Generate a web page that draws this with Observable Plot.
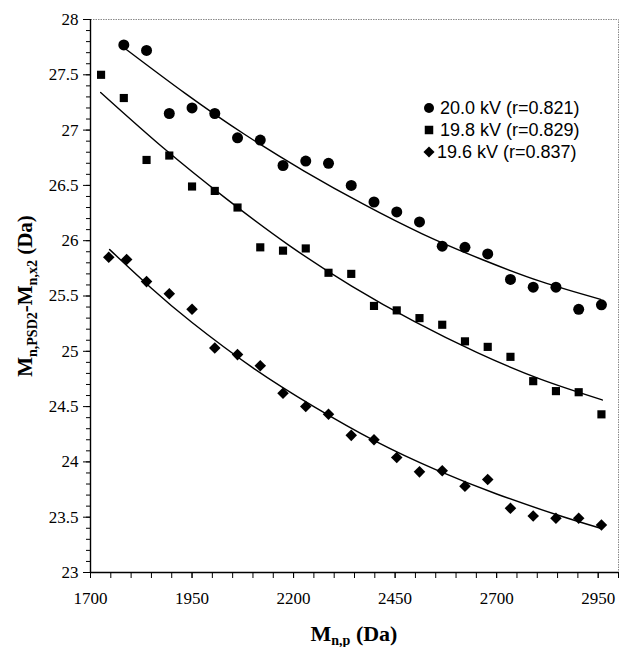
<!DOCTYPE html>
<html>
<head>
<meta charset="utf-8">
<script src="https://cdn.jsdelivr.net/npm/d3@7"></script>
<script src="https://cdn.jsdelivr.net/npm/@observablehq/plot@0.6"></script>
<style>
  body { margin: 0; background: #fff; }
  #chart { position: relative; width: 619px; height: 647px; }
</style>
</head>
<body>
<div id="chart"></div>
<script>
// ---- Data ----
const seriesNames = ["20.0 kV (r=0.821)", "19.8 kV (r=0.829)", "19.6 kV (r=0.837)"];

const xCircle = [1782, 1838, 1894, 1950, 2006, 2062, 2118, 2174, 2230, 2286, 2342, 2398, 2454, 2510, 2566, 2622, 2678, 2734, 2790, 2846, 2902, 2958];
const yCircle = [27.77, 27.72, 27.15, 27.20, 27.15, 26.93, 26.91, 26.68, 26.72, 26.70, 26.50, 26.35, 26.26, 26.17, 25.95, 25.94, 25.88, 25.65, 25.58, 25.58, 25.38, 25.42];

const xSquare = [1726, 1782, 1838, 1894, 1950, 2006, 2062, 2118, 2174, 2230, 2286, 2342, 2398, 2454, 2510, 2566, 2622, 2678, 2734, 2790, 2846, 2902, 2958];
const ySquare = [27.50, 27.29, 26.73, 26.77, 26.49, 26.45, 26.30, 25.94, 25.91, 25.93, 25.71, 25.70, 25.41, 25.37, 25.30, 25.24, 25.09, 25.04, 24.95, 24.73, 24.64, 24.63, 24.43];

const xDiamond = [1745, 1789, 1838, 1894, 1950, 2006, 2062, 2118, 2174, 2230, 2286, 2342, 2398, 2454, 2510, 2566, 2622, 2678, 2734, 2790, 2846, 2902, 2958];
const yDiamond = [25.85, 25.83, 25.63, 25.52, 25.38, 25.03, 24.97, 24.87, 24.62, 24.50, 24.43, 24.24, 24.20, 24.04, 23.91, 23.92, 23.78, 23.84, 23.58, 23.51, 23.49, 23.49, 23.43];

// fitted trend lines
const xCircleFit = [1788, 1934, 2080, 2226, 2372, 2518, 2664, 2810, 2956];
const yCircleFit = [27.73, 27.33, 26.96, 26.63, 26.33, 26.06, 25.83, 25.63, 25.47];
const xSquareFit = [1725, 1879, 2034, 2188, 2343, 2497, 2651, 2806, 2960];
const ySquareFit = [27.34, 26.84, 26.38, 25.96, 25.59, 25.27, 24.99, 24.75, 24.56];
const xDiamondFit = [1747, 1850, 1950, 2100, 2250, 2400, 2550, 2700, 2850, 2956];
const yDiamondFit = [25.92, 25.57, 25.26, 24.85, 24.50, 24.19, 23.93, 23.71, 23.52, 23.40];

// ticks
const xTicks = [1700, 1950, 2200, 2450, 2700, 2950];
const xMinorTicks = [1700,1750,1800,1850,1900,1950,2000,2050,2100,2150,2200,2250,2300,2350,2400,2450,2500,2550,2600,2650,2700,2750,2800,2850,2900,2950,3000];
const yTicks = [23, 23.5, 24, 24.5, 25, 25.5, 26, 26.5, 27, 27.5, 28];
const yMinorTicks = d3.range(230, 281).map(v => v / 10);

// ---- build tables ----
const zip = (xs, ys) => xs.map((x, i) => ({x, y: ys[i]}));
const circles = zip(xCircle, yCircle);
const squares = zip(xSquare, ySquare);
const diamonds = zip(xDiamond, yDiamond);
const circleFit = zip(xCircleFit, yCircleFit);
const squareFit = zip(xSquareFit, ySquareFit);
const diamondFit = zip(xDiamondFit, yDiamondFit);

const serif = "'Liberation Serif', 'Times New Roman', serif";
const sans = "'Liberation Sans', Arial, sans-serif";

const plot = Plot.plot({
  width: 619,
  height: 647,
  marginLeft: 90,
  marginRight: 1,
  marginTop: 19,
  marginBottom: 75,
  x: {domain: [1700, 3000], label: null},
  y: {domain: [23, 28], label: null},
  style: {fontFamily: serif, fontSize: "17px", color: "#000", background: "#fff", overflow: "visible"},
  marks: [
    Plot.frame({stroke: "#8a8a8a", strokeDasharray: "1.5,1"}),
    Plot.axisY({ticks: yMinorTicks, tickSize: 4, tickFormat: () => "", stroke: "#000"}),
    Plot.axisY({ticks: yTicks, tickSize: 7, tickPadding: 5, tickFormat: d => String(d), fontSize: 17, stroke: "#000"}),
    Plot.axisX({ticks: xMinorTicks, tickSize: 6, tickFormat: () => "", stroke: "#000"}),
    Plot.axisX({ticks: xTicks, tickSize: 6, tickPadding: 13, tickFormat: d => String(d), fontSize: 17, stroke: "#000"}),
    Plot.ruleX([1700], {stroke: "#000", strokeWidth: 1.4}),
    Plot.ruleY([23], {stroke: "#000", strokeWidth: 1.4}),
    Plot.line(circleFit, {x: "x", y: "y", curve: "natural", stroke: "#000", strokeWidth: 1.4}),
    Plot.line(squareFit, {x: "x", y: "y", curve: "natural", stroke: "#000", strokeWidth: 1.4}),
    Plot.line(diamondFit, {x: "x", y: "y", curve: "natural", stroke: "#000", strokeWidth: 1.4}),
    Plot.dot(circles, {x: "x", y: "y", r: 5.5, fill: "#000", symbol: "circle"}),
    Plot.dot(squares, {x: "x", y: "y", r: 4.6, fill: "#000", symbol: "square"}),
    Plot.dot(diamonds, {x: "x", y: "y", r: 5.2, fill: "#000", symbol: "diamond2"})
  ]
});

document.getElementById("chart").appendChild(plot);
const svg = d3.select(plot);

// Y axis title with subscripts
const yt = svg.append("text")
  .attr("transform", "translate(32,296) rotate(-90)")
  .attr("text-anchor", "middle")
  .attr("font-family", serif)
  .attr("font-weight", "bold")
  .attr("font-size", 21)
  .attr("fill", "#000");
yt.append("tspan").text("M");
yt.append("tspan").attr("font-size", 14).attr("dy", 5).text("n,PSD2");
yt.append("tspan").attr("dy", -5).text("-M");
yt.append("tspan").attr("font-size", 14).attr("dy", 5).text("n,x2");
yt.append("tspan").attr("dy", -5).text(" (Da)");

// X axis title with subscript
const xt = svg.append("text")
  .attr("x", 354).attr("y", 641)
  .attr("text-anchor", "middle")
  .attr("font-family", serif)
  .attr("font-weight", "bold")
  .attr("font-size", 22)
  .attr("fill", "#000");
xt.append("tspan").text("M");
xt.append("tspan").attr("font-size", 14).attr("dy", 4).text("n,p");
xt.append("tspan").attr("dy", -4).text(" (Da)");

// Legend
const legendSymbols = [d3.symbolCircle, d3.symbolSquare, d3.symbolDiamond2];
const legendSizes = [Math.PI * 5 * 5, Math.PI * 4.8 * 4.8, Math.PI * 5 * 5];
const lg = svg.append("g").attr("font-family", sans).attr("font-size", 18).attr("fill", "#000");
seriesNames.forEach((name, i) => {
  const cy = 108 + i * 22;
  lg.append("path")
    .attr("transform", `translate(429,${cy})`)
    .attr("d", d3.symbol(legendSymbols[i], legendSizes[i])());
  lg.append("text")
    .attr("x", i === 2 ? 437 : 440)
    .attr("y", cy)
    .attr("dy", "0.36em")
    .attr("text-anchor", "start")
    .text(name);
});
</script>
</body>
</html>
